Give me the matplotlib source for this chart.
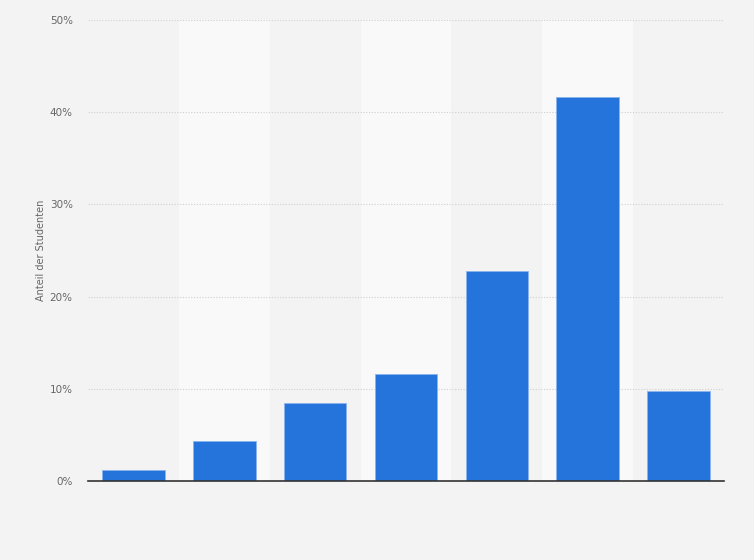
import matplotlib.pyplot as plt
from matplotlib.ticker import FuncFormatter

# Dados
categorias = ['1', '2', '3', '4', '5', '6', '7']
anteil = [1.2, 4.3, 8.5, 11.6, 22.8, 41.6, 9.8]
y_ticks = [0, 10, 20, 30, 40, 50]

fig = plt.figure(figsize=(7.54, 5.60), dpi=100)
fig.patch.set_facecolor('#f3f3f3')
ax = fig.add_axes([0.1167, 0.1411, 0.8435, 0.8232])
ax.set_facecolor('#f3f3f3')

x = list(range(len(categorias)))

# Faixas claras alternadas
for i in x:
    if i % 2 == 1:
        ax.axvspan(i - 0.5, i + 0.5, color='#f9f9f9', zorder=0, lw=0)

ax.bar(x, anteil, width=0.69, color='#2574db', edgecolor='#8ab4ee',
       linewidth=0.6, zorder=3)

ax.set_xlim(-0.5, len(categorias) - 0.5)
ax.set_ylim(0, 50)
ax.set_yticks(y_ticks)
ax.yaxis.set_major_formatter(FuncFormatter(lambda v, p: f'{v:.0f}%'))
ax.grid(axis='y', color='#cfcfcf', linestyle=(0, (1, 1.5)), linewidth=0.8, zorder=1)
ax.set_xticks([])

for s in ['top', 'right', 'left']:
    ax.spines[s].set_visible(False)
ax.spines['bottom'].set_color('#333333')
ax.spines['bottom'].set_linewidth(1.2)
ax.spines['bottom'].set_zorder(4)

ax.tick_params(axis='y', length=0, pad=11, labelsize=7.5, labelcolor='#666666')
ax.set_ylabel('Anteil der Studenten', fontsize=7, color='#666666', labelpad=3)

plt.savefig('out.png', dpi=100, facecolor=fig.get_facecolor())
